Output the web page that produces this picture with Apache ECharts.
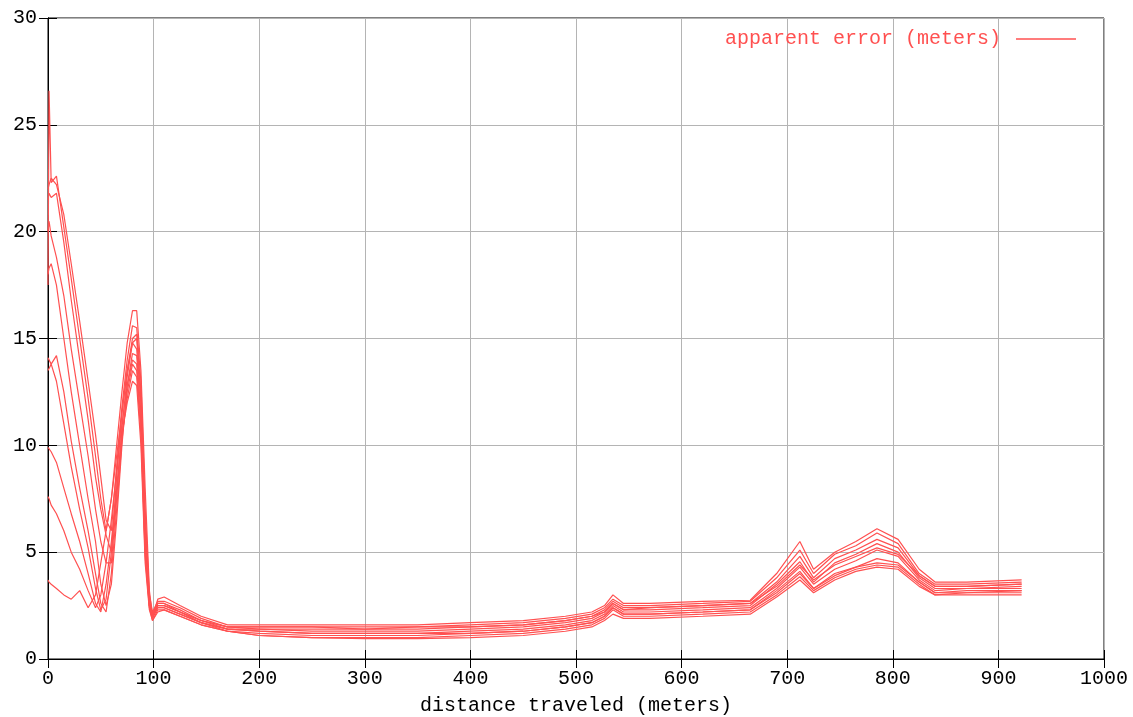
<!DOCTYPE html>
<html>
<head>
<meta charset="utf-8">
<script src="https://cdn.jsdelivr.net/npm/echarts@6/dist/echarts.min.js"></script>
<style>html,body{margin:0;padding:0;background:#fff}#c{width:1133px;height:717px}</style>
</head>
<body>
<div id="c"></div>
<script>
// distance traveled (meters), shared by all runs
const distance = [0,1,3,8,15,22,30,38,45,50,55,60,65,70,75,80,84,88,92,96,99,104,110,125,145,170,200,250,300,350,400,450,490,515,527,535,545,570,620,665,690,712,725,745,765,785,805,825,840,870,922];

// apparent error (meters) for each run
const run1  = [17.5,26.6,22.3,22.6,20.2,17.8,15.0,12.2,9.5,7.5,6.0,7.5,10.0,12.5,14.8,16.3,16.3,13.5,8.0,3.2,2.0,2.8,2.9,2.5,2.0,1.6,1.6,1.6,1.6,1.6,1.7,1.8,2.0,2.2,2.5,3.0,2.6,2.6,2.7,2.75,4.0,5.5,4.2,5.0,5.5,6.1,5.6,4.2,3.6,3.6,3.7];
const run2  = [22.0,22.2,22.5,22.2,20.8,18.5,15.8,13.0,10.5,8.5,6.5,6.0,9.0,11.8,14.0,15.6,15.5,13.0,7.0,3.0,2.2,2.7,2.7,2.4,1.9,1.5,1.5,1.5,1.5,1.5,1.6,1.7,1.9,2.1,2.4,2.8,2.5,2.5,2.6,2.7,3.8,5.1,4.0,4.9,5.3,5.9,5.4,4.0,3.5,3.5,3.6];
const run3  = [21.5,21.8,21.6,21.8,19.5,16.8,14.0,11.2,8.5,7.0,5.8,5.0,8.5,11.5,13.5,15.0,15.2,12.5,6.5,2.8,2.0,2.6,2.6,2.3,1.8,1.5,1.4,1.4,1.4,1.4,1.5,1.6,1.8,2.0,2.3,2.7,2.4,2.4,2.5,2.6,3.6,4.8,3.8,4.7,5.1,5.6,5.2,3.9,3.4,3.4,3.5];
const run4  = [20.0,20.5,19.8,18.8,17.0,14.5,12.0,9.5,7.0,5.5,4.5,4.5,7.5,10.8,13.2,14.8,14.5,12.0,6.0,2.7,2.1,2.5,2.5,2.2,1.8,1.4,1.4,1.3,1.3,1.3,1.4,1.5,1.7,1.9,2.2,2.6,2.3,2.3,2.4,2.5,3.5,4.55,3.6,4.5,4.9,5.4,5.0,3.8,3.3,3.3,3.4];
const run5  = [18.0,18.3,18.5,17.5,15.0,12.5,10.0,7.5,5.5,3.5,2.5,3.5,6.5,10.0,12.8,14.3,14.2,11.5,5.5,2.6,2.0,2.5,2.5,2.2,1.7,1.4,1.3,1.2,1.2,1.2,1.3,1.4,1.6,1.8,2.1,2.5,2.2,2.2,2.3,2.4,3.3,4.3,3.5,4.2,4.6,5.1,4.8,3.7,3.2,3.3,3.3];
const run6  = [14.1,14.0,13.8,14.2,12.5,10.2,8.0,6.0,4.0,2.6,2.2,4.0,7.0,10.2,12.5,13.8,13.5,11.0,5.0,2.5,1.9,2.4,2.4,2.1,1.7,1.3,1.2,1.1,1.1,1.1,1.2,1.3,1.5,1.7,2.0,2.4,2.1,2.1,2.2,2.3,3.2,4.1,3.3,4.0,4.3,4.7,4.5,3.6,3.1,3.2,3.2];
const run7  = [13.5,13.6,13.8,13.0,11.0,9.0,7.0,5.2,3.3,2.3,2.8,5.0,7.8,10.5,12.2,13.5,13.2,10.5,4.8,2.4,1.8,2.3,2.3,2.0,1.6,1.3,1.1,1.0,1.0,1.0,1.1,1.2,1.4,1.6,1.9,2.3,2.0,2.0,2.1,2.2,3.0,3.85,3.2,3.8,4.2,4.4,4.3,3.5,3.0,3.1,3.1];
const run8  = [9.9,9.9,9.7,9.2,8.0,6.8,5.5,4.0,2.6,2.2,3.5,5.5,8.0,10.5,12.0,13.0,12.8,10.0,4.5,2.3,1.8,2.2,2.3,2.0,1.6,1.3,1.1,1.0,0.95,0.95,1.0,1.1,1.3,1.5,1.8,2.1,1.9,1.9,2.0,2.1,2.9,3.7,3.1,3.7,4.1,4.3,4.2,3.4,3.0,3.0,3.0];
const run9  = [7.6,7.5,7.2,6.8,6.0,5.0,4.2,3.2,2.4,3.0,4.5,6.5,8.8,11.0,12.8,14.0,13.8,11.0,5.2,2.5,2.0,2.4,2.4,2.1,1.7,1.4,1.3,1.2,1.2,1.2,1.2,1.3,1.5,1.7,2.0,2.4,2.1,2.1,2.2,2.3,3.1,4.0,3.3,3.9,4.3,4.5,4.4,3.6,3.1,3.1,3.2];
const run10 = [3.7,3.6,3.5,3.3,3.0,2.8,3.2,2.4,3.0,4.5,6.0,7.5,9.5,11.5,13.5,14.8,15.0,12.2,6.2,2.7,2.1,2.6,2.6,2.2,1.8,1.5,1.5,1.5,1.4,1.5,1.5,1.6,1.8,2.0,2.2,2.6,2.3,2.4,2.5,2.6,3.4,4.4,3.7,4.4,4.8,5.2,4.9,3.9,3.4,3.4,3.5];

const runs = [run1, run2, run3, run4, run5, run6, run7, run8, run9, run10];
const xTicks = [0,100,200,300,400,500,600,700,800,900,1000];
const yTicks = [0,5,10,15,20,25,30];
const seriesName = 'apparent error (meters)';
const xTitle = 'distance traveled (meters)';

const FONT = 'Liberation Mono';
const RED = '#ff5050';

const chart = echarts.init(document.getElementById('c'), null, {renderer: 'canvas'});
const tickStyle = {show: true, inside: true, length: 9, lineStyle: {color: '#000', width: 1}};
const gridStyle = {show: true, lineStyle: {color: '#b4b4b4', width: 1, type: 'solid'}};

chart.setOption({
  animation: false,
  backgroundColor: '#fff',
  grid: {left: 48, top: 18, width: 1056, height: 641, outerBoundsMode: 'none', containLabel: false,
         show: true, borderColor: '#000', borderWidth: 1, backgroundColor: 'transparent'},
  legend: {
    data: [seriesName], right: 52, top: 24, align: 'right',
    icon: 'rect', itemWidth: 60, itemHeight: 1.5,
    textStyle: {fontFamily: FONT, fontSize: 20, color: RED, padding: [0, 10, 0, 0]},
    selectedMode: false
  },
  xAxis: [{
    type: 'value', min: xTicks[0], max: xTicks[xTicks.length - 1], interval: 100,
    axisLine: {show: true, lineStyle: {color: '#000', width: 1}},
    axisTick: tickStyle, splitLine: gridStyle,
    axisLabel: {fontFamily: FONT, fontSize: 20, color: '#000', margin: 10, formatter: v => String(v)},
    name: xTitle, nameLocation: 'middle', nameGap: 37,
    nameTextStyle: {fontFamily: FONT, fontSize: 20, color: '#000'}
  }, {
    type: 'value', position: 'top', min: 0, max: 1000, interval: 100,
    axisLine: {show: true, lineStyle: {color: '#000'}},
    axisTick: tickStyle, axisLabel: {show: false}, splitLine: {show: false}
  }],
  yAxis: [{
    type: 'value', min: yTicks[0], max: yTicks[yTicks.length - 1], interval: 5,
    axisLine: {show: true, lineStyle: {color: '#000', width: 1}},
    axisTick: tickStyle, splitLine: gridStyle,
    axisLabel: {fontFamily: FONT, fontSize: 20, color: '#000', margin: 11, formatter: v => String(v)}
  }, {
    type: 'value', position: 'right', min: 0, max: 30, interval: 5,
    axisLine: {show: true, lineStyle: {color: '#000'}},
    axisTick: tickStyle, axisLabel: {show: false}, splitLine: {show: false}
  }],
  series: runs.map(r => ({
    name: seriesName, type: 'line', xAxisIndex: 0, yAxisIndex: 0,
    showSymbol: false, symbol: 'none', color: RED,
    lineStyle: {color: RED, width: 1.2},
    data: distance.map((d, i) => [d, r[i]])
  }))
});
</script>
</body>
</html>
